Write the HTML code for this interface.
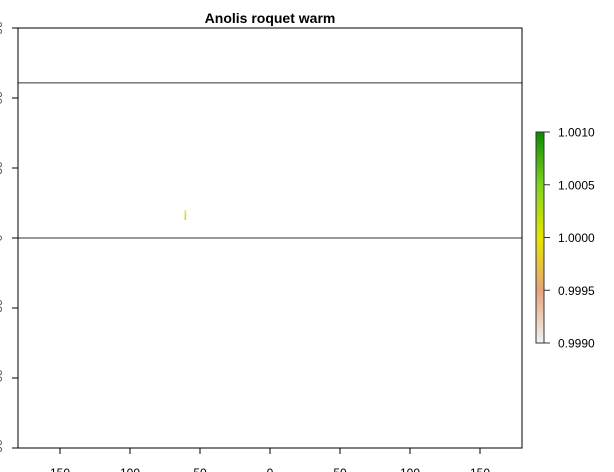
<!DOCTYPE html>
<html><head><meta charset="utf-8"><style>
body{margin:0;background:#fff;width:614px;height:472px;overflow:hidden}
svg{display:block;font-family:"Liberation Sans",Arial,sans-serif}
</style></head><body>
<svg width="614" height="472">
<defs><linearGradient id="g" x1="0" y1="1" x2="0" y2="0">
<stop offset="0" stop-color="#f2f2f2"/><stop offset="0.25" stop-color="#e6a47a"/>
<stop offset="0.5" stop-color="#e6e600"/><stop offset="0.75" stop-color="#7ed321"/>
<stop offset="1" stop-color="#0a8a00"/></linearGradient></defs>
<text x="270" y="23" text-anchor="middle" font-size="14" font-weight="bold">Anolis roquet warm</text>
<g id="plot"></g>
<g id="legend"></g>
</svg>
<script>
const xTicks=[-150,-100,-50,0,50,100,150];
const xTickLabels=["150","100","50","0","50","100","150"];
const yTicks=[-90,-60,-30,0,30,60,90];
const hLines=[0,66.5];
const cellLon=[-61,-61,-61,-61];
const cellLat=[11,10,9,8];
const cellVal=[1.0000,1.0000,0.99975,0.99965];
const legendTicks=[0.9990,0.9995,1.0000,1.0005,1.0010];
const legendLabels=["0.9990","0.9995","1.0000","1.0005","1.0010"];
const NS="http://www.w3.org/2000/svg";
const X=v=>270+v*1.4, Y=v=>238-v*(210/90);
const L=v=>343-(v-0.999)/0.002*211;
function mk(t,a,p){const e=document.createElementNS(NS,t);for(const k in a)e.setAttribute(k,a[k]);p.appendChild(e);return e;}
const plot=document.getElementById('plot'),leg=document.getElementById('legend');
function col(v){const t=(v-0.999)/0.002;if(t<0.5){const u=t/0.5;return `rgb(${230},${Math.round(140+(230-140)*u)},${Math.round(60*(1-u))})`;}const u=(t-0.5)/0.5;return `rgb(${Math.round(230*(1-u)+10*u)},${Math.round(230-92*u)},0)`;}
cellLon.forEach((lo,i)=>{const r=mk('rect',{x:X(lo),y:Y(cellLat[i])-2,width:1.5,height:2.5,fill:col(cellVal[i])},plot);

});
hLines.forEach(v=>{const l=mk('line',{x1:X(-180),x2:X(180),y1:Y(v),y2:Y(v),stroke:'#333','stroke-width':1},plot);

});
const box=mk('rect',{x:X(-180),y:Y(90),width:X(180)-X(-180),height:Y(-90)-Y(90),fill:'none',stroke:'#000','stroke-width':1},plot);


xTicks.forEach((v,i)=>{const l=mk('line',{x1:X(v),x2:X(v),y1:Y(-90),y2:Y(-90)+6,stroke:'#000'},plot);


const t=mk('text',{x:X(v),y:477,'text-anchor':'middle','font-size':12},plot);t.textContent=xTickLabels[i];

});
yTicks.forEach(v=>{const l=mk('line',{x1:X(-180)-6,x2:X(-180),y1:Y(v),y2:Y(v),stroke:'#000'},plot);


const t=mk('text',{x:0,y:0,'text-anchor':'middle','font-size':12,fill:'#555',transform:`translate(2,${Y(v)}) rotate(-90)`},plot);t.textContent=String(v);

});
const bar=mk('rect',{x:536,y:L(0.999)-211,width:8,height:211,fill:'url(#g)',stroke:'#333','stroke-width':1},leg);


legendTicks.forEach((v,i)=>{const l=mk('line',{x1:544,x2:550,y1:L(v),y2:L(v),stroke:'#333'},leg);


const t=mk('text',{x:558,y:L(v)+4.5,'font-size':12},leg);t.textContent=legendLabels[i];

});
</script>
</body></html>
